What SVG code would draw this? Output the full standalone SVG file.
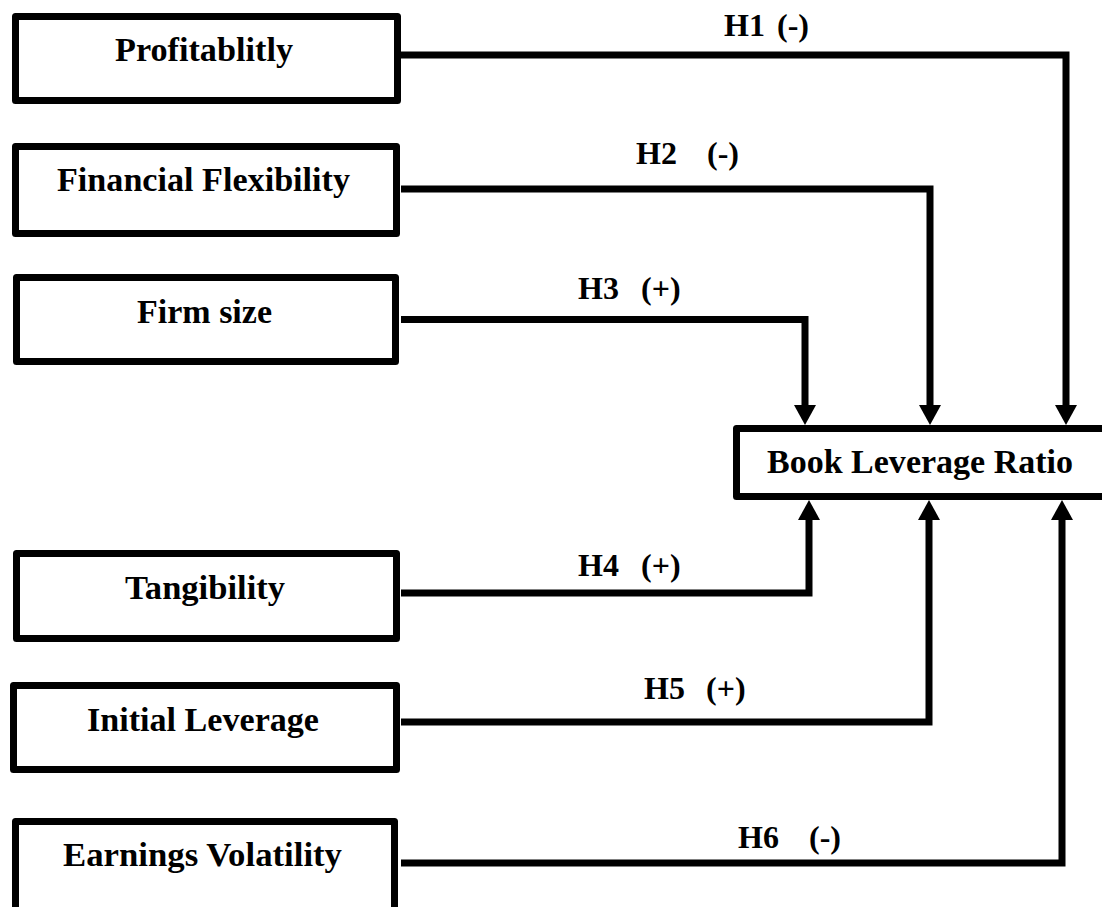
<svg xmlns="http://www.w3.org/2000/svg" width="1102" height="907" viewBox="0 0 1102 907">
  <style>
    .box { fill: #ffffff; stroke: #000000; stroke-width: 7; stroke-linejoin: round; }
    .lbl { font-family: "Liberation Serif", "Times New Roman", serif; font-weight: bold; font-size: 34px; fill: #000000; }
    .hyp { font-family: "Liberation Serif", "Times New Roman", serif; font-weight: bold; font-size: 32px; fill: #000000; }
    .conn { fill: none; stroke: #000000; stroke-width: 7; stroke-linejoin: miter; stroke-linecap: butt; }
  </style>
  <defs>
    <marker id="arrow" markerUnits="userSpaceOnUse" markerWidth="20" markerHeight="22" viewBox="0 0 20 22" refX="0" refY="11" orient="auto">
      <path d="M0,0 L20,11 L0,22 Z" fill="#000000"/>
    </marker>
  </defs>
  <rect x="0" y="0" width="1102" height="907" fill="#ffffff"/>

  <g id="connectors">
    <polyline class="conn" points="401,55 1066,55 1066,405" marker-end="url(#arrow)"/>
    <polyline class="conn" points="401,189 930,189 930,405" marker-end="url(#arrow)"/>
    <polyline class="conn" points="401,319.5 805,319.5 805,405" marker-end="url(#arrow)"/>
    <polyline class="conn" points="401,593 809,593 809,520" marker-end="url(#arrow)"/>
    <polyline class="conn" points="401,722 929,722 929,520" marker-end="url(#arrow)"/>
    <polyline class="conn" points="401,863 1062,863 1062,520" marker-end="url(#arrow)"/>
    <text class="hyp" y="36"><tspan x="724">H1</tspan><tspan x="769"> (-)</tspan></text>
    <text class="hyp" y="164"><tspan x="636">H2</tspan><tspan x="699"> (-)</tspan></text>
    <text class="hyp" y="299"><tspan x="578">H3</tspan><tspan x="633"> (+)</tspan></text>
    <text class="hyp" y="576"><tspan x="578">H4</tspan><tspan x="633"> (+)</tspan></text>
    <text class="hyp" y="699"><tspan x="644">H5</tspan><tspan x="698"> (+)</tspan></text>
    <text class="hyp" y="848"><tspan x="738">H6</tspan><tspan x="801"> (-)</tspan></text>
  </g>

  <g id="node-profitability">
    <rect class="box" x="15.5" y="16.5" width="382" height="84"/>
    <text class="lbl" x="115" y="61" textLength="178" lengthAdjust="spacingAndGlyphs">Profitablitly</text>
  </g>
  <g id="node-financial-flexibility">
    <rect class="box" x="15.5" y="146.5" width="381" height="87"/>
    <text class="lbl" x="57" y="191" textLength="293" lengthAdjust="spacingAndGlyphs">Financial Flexibility</text>
  </g>
  <g id="node-firm-size">
    <rect class="box" x="16.5" y="277.5" width="379" height="84"/>
    <text class="lbl" x="137" y="323" textLength="135" lengthAdjust="spacingAndGlyphs">Firm size</text>
  </g>
  <g id="node-book-leverage-ratio">
    <rect class="box" x="736.5" y="428.5" width="380" height="68"/>
    <text class="lbl" x="767" y="473" textLength="306" lengthAdjust="spacingAndGlyphs">Book Leverage Ratio</text>
  </g>
  <g id="node-tangibility">
    <rect class="box" x="16.5" y="553.5" width="380" height="85"/>
    <text class="lbl" x="125" y="599" textLength="160" lengthAdjust="spacingAndGlyphs">Tangibility</text>
  </g>
  <g id="node-initial-leverage">
    <rect class="box" x="13.5" y="685.5" width="383" height="84"/>
    <text class="lbl" x="87" y="731" textLength="232" lengthAdjust="spacingAndGlyphs">Initial Leverage</text>
  </g>
  <g id="node-earnings-volatility">
    <rect class="box" x="15.5" y="821.5" width="379" height="100"/>
    <text class="lbl" x="63" y="866" textLength="279" lengthAdjust="spacingAndGlyphs">Earnings Volatility</text>
  </g>
</svg>
